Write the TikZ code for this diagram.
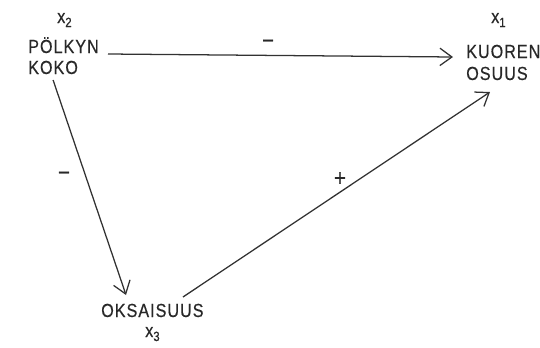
\documentclass[tikz,border=0pt]{standalone}
\usepackage{fontspec}
\setmainfont{Liberation Sans}
\newfontfamily\lettering{Liberation Sans}[FakeStretch=0.85,LetterSpace=5.5,FakeBold=0.5]
\usetikzlibrary{arrows.meta,calc}

% lowered index of the x labels
\newcommand{\idx}[1]{\raisebox{-3pt}{\fontsize{10}{10}\selectfont #1}}

\begin{document}
\begin{tikzpicture}[x=0.75pt,y=0.75pt,yscale=-1,xscale=1,
  lbl/.style={font=\lettering\fontsize{14.2}{17}\selectfont, text={rgb,255:red,40;green,40;blue,40}, inner sep=0pt, anchor=base west},
  sgn/.style={font=\lettering\fontsize{18}{20}\selectfont, text={rgb,255:red,40;green,40;blue,40}, inner sep=0pt},
  conn/.style={line width=0.95pt, color={rgb,255:red,50;green,50;blue,50}, -{Straight Barb[length=9pt,width=13pt,line width=0.95pt]}}]
\useasboundingbox (0,0) rectangle (540,347);

% Text Node
\node [lbl] (xtwo) at (57,23) {x\idx{2}};
% Text Node
\node [lbl] (polkyn) at (28,53) {PÖLKYN};
% Text Node
\node [lbl] (koko) at (28,74) {KOKO};
% Text Node
\node [lbl] (xone) at (491,23) {x\idx{1}};
% Text Node
\node [lbl] (kuoren) at (466,58) {KUOREN};
% Text Node
\node [lbl] (osuus) at (466,80) {OSUUS};
% Text Node
\node [lbl] (oksa) at (101,317) {OKSAISUUS};
% Text Node
\node [lbl] (xthree) at (145,337) {x\idx{3}};

%Straight Lines
\draw [conn] (108,54) -- ($(kuoren.base west)+(-13,-1)$) ;
%Straight Lines
\draw [conn] ($(koko.base)+(0,6)$) -- ($(oksa.base west)+(25,-22)$) ;
%Straight Lines
\draw [conn] ($(oksa.base west)+(82,-20)$) -- ($(osuus.base west)+(24,12)$) ;

% Text Node
\node [sgn] (signtop) at (268,44) {−};
% Text Node
\node [sgn] (signleft) at (64,176) {−};
% Text Node
\node [sgn] (signright) at (340,179) {+};

\end{tikzpicture}
\end{document}
